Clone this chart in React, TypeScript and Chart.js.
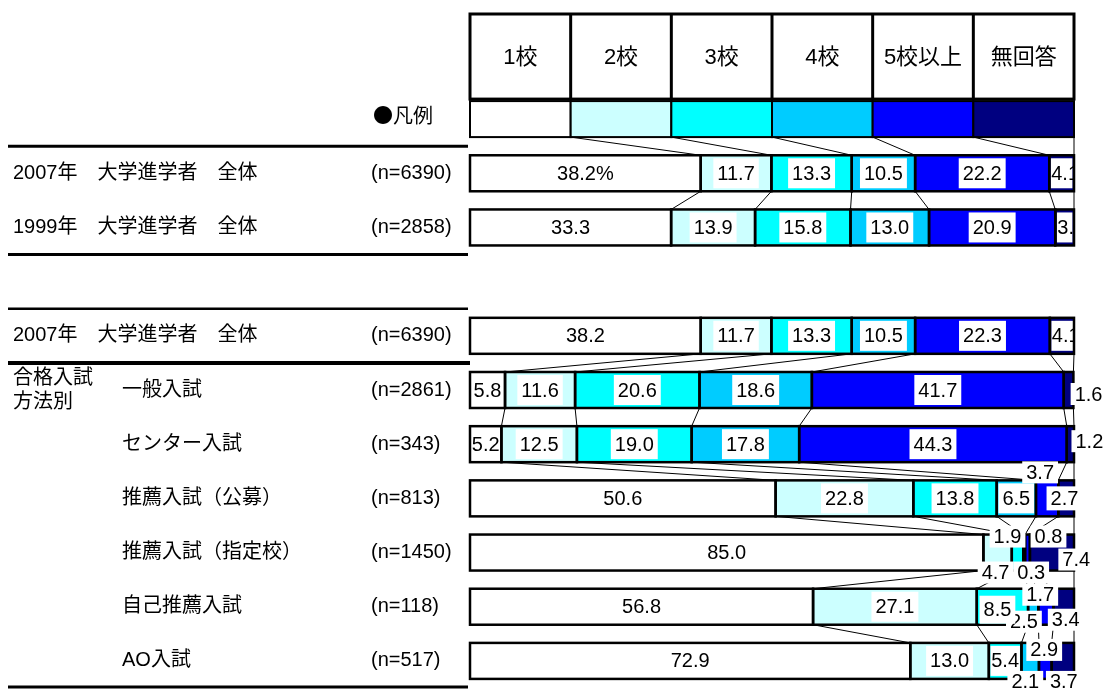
import React, { useEffect, useRef } from 'react';
import { Chart, registerables } from 'chart.js';

Chart.register(...registerables);

// ---------- data ----------
const seriesNames = ['1校', '2校', '3校', '4校', '5校以上', '無回答'];
const seriesColors = ['#FFFFFF', '#CCFFFF', '#00FFFF', '#00CCFF', '#0000FF', '#000080'];

const rowNames = [
  '',
  '2007年　大学進学者　全体',
  '1999年　大学進学者　全体',
  '',
  '2007年　大学進学者　全体',
  '一般入試',
  'センター入試',
  '推薦入試（公募）',
  '推薦入試（指定校）',
  '自己推薦入試',
  'AO入試',
];
const sampleSizes = ['', '(n=6390)', '(n=2858)', '', '(n=6390)', '(n=2861)', '(n=343)', '(n=813)', '(n=1450)', '(n=118)', '(n=517)'];
const groupTitle = ['合格入試', '方法別'];
const legendTitle = '●凡例';

const all2007 = [38.2, 11.7, 13.3, 10.5, 22.2, 4.1];
const all1999 = [33.3, 13.9, 15.8, 13.0, 20.9, 3.1];
const all2007b = [38.2, 11.7, 13.3, 10.5, 22.3, 4.1];
const general = [5.8, 11.6, 20.6, 18.6, 41.7, 1.6];
const center = [5.2, 12.5, 19.0, 17.8, 44.3, 1.2];
const recPublic = [50.6, 22.8, 13.8, 6.5, 3.7, 2.7];
const recDesignated = [85.0, 4.7, 1.9, 0.3, 0.8, 7.4];
const selfRec = [56.8, 27.1, 8.5, 1.7, 2.5, 3.4];
const aoExam = [72.9, 13.0, 5.4, 2.9, 2.1, 3.7];

const rowValues: (number[] | null)[] = [
  null, all2007, all1999, null, all2007b, general, center, recPublic, recDesignated, selfRec, aoExam,
];

// rows joined by series lines
const connectedRows = [[0, 1], [1, 2], [4, 5], [5, 6], [6, 7], [7, 8], [8, 9], [9, 10]];

// label displacement (dx, dy, box height) for crowded segments: key = row-series
const labelNudges: Record<string, [number, number, number]> = {
  '5-5': [20, 4, 22],
  '6-5': [19, -3, 22],
  '7-4': [-7, -26, 22],
  '7-5': [-2, 0, 24],
  '8-1': [-2, 20, 22],
  '8-2': [-10, -16, 22],
  '8-3': [7, 20, 22],
  '8-4': [21, -16, 22],
  '8-5': [24, 7, 22],
  '9-2': [-5, 3, 28],
  '9-3': [7, -12, 22],
  '9-4': [-22, 15, 22],
  '9-5': [2, 13, 22],
  '10-3': [14, -11, 22],
  '10-4': [-20, 21, 22],
  '10-5': [1, 21, 22],
};

// ---------- drawing ----------
const FONT = '"Liberation Sans", "Noto Sans CJK JP", sans-serif';
const CJK_FONT = '"Noto Sans CJK JP", sans-serif';
const BAR_H = 36;

const tablePlugin = {
  id: 'tablePlugin',
  afterDatasetsDraw(chart: any) {
    const ctx = chart.ctx as CanvasRenderingContext2D;
    const xs = chart.scales.x;
    const ys = chart.scales.y;
    const area = chart.chartArea;
    const half = BAR_H / 2;
    const n = seriesNames.length;
    const colX = (k: number) => xs.getPixelForValue((k * 100) / n);
    const rowY = (j: number) => ys.getPixelForValue(j);
    const seg = (i: number, j: number) => chart.getDatasetMeta(i).data[j].getProps(['x', 'y', 'base'], true);

    ctx.save();
    ctx.textBaseline = 'middle';

    // header table
    const legendTop = rowY(0) - half;
    const headTop = 14;
    const headBottom = legendTop - 2;
    ctx.fillStyle = '#fff';
    ctx.fillRect(colX(0), headTop, colX(n) - colX(0), headBottom - headTop);
    ctx.strokeStyle = '#000';
    ctx.lineWidth = 3;
    ctx.strokeRect(colX(0), headTop, colX(n) - colX(0), headBottom - headTop);
    for (let k = 1; k < n; k++) {
      ctx.beginPath();
      ctx.moveTo(colX(k), headTop);
      ctx.lineTo(colX(k), headBottom);
      ctx.stroke();
    }
    ctx.fillStyle = '#000';
    ctx.font = `22px ${FONT}`;
    ctx.textAlign = 'center';
    for (let k = 0; k < n; k++) {
      ctx.fillText(seriesNames[k], (colX(k) + colX(k + 1)) / 2, (headTop + headBottom) / 2 + 1);
    }
    // legend swatches
    ctx.lineWidth = 2;
    for (let k = 0; k < n; k++) {
      ctx.fillStyle = seriesColors[k];
      ctx.fillRect(colX(k), legendTop, colX(k + 1) - colX(k), BAR_H);
      ctx.strokeRect(colX(k), legendTop, colX(k + 1) - colX(k), BAR_H);
    }

    // left texts
    ctx.fillStyle = '#000';
    ctx.textAlign = 'left';
    ctx.font = `20px ${CJK_FONT}`;
    ctx.fillText(legendTitle, 373, rowY(0) - 4);
    ctx.font = `20px ${FONT}`;
    for (let j = 0; j < rowNames.length; j++) {
      if (!rowNames[j]) continue;
      ctx.fillText(rowNames[j], j >= 5 ? 122 : 13, rowY(j));
      ctx.fillText(sampleSizes[j], 371, rowY(j));
    }
    ctx.fillText(groupTitle[0], 13, rowY(5) - 12);
    ctx.fillText(groupTitle[1], 13, rowY(5) + 12);

    // separator lines on the label side
    const bandEdge = (j: number) => (rowY(j - 1) + rowY(j)) / 2;
    const seps: [number, number, number][] = [
      [bandEdge(1), 3, 468],
      [bandEdge(3), 3, 468],
      [bandEdge(4), 2.5, 468],
      [bandEdge(5), 4, 470],
      [area.bottom - 1, 3, 468],
    ];
    ctx.strokeStyle = '#000';
    for (const [y, w, x2] of seps) {
      ctx.lineWidth = w;
      ctx.beginPath();
      ctx.moveTo(8, y);
      ctx.lineTo(x2, y);
      ctx.stroke();
    }

    // in-bar labels (clipped to plot area)
    ctx.save();
    ctx.beginPath();
    ctx.rect(area.left, area.top, area.right - area.left, area.bottom - area.top);
    ctx.clip();
    ctx.font = `20px ${FONT}`;
    rowValues.forEach((vals, j) => {
      if (!vals) return;
      vals.forEach((v, i) => {
        if (labelNudges[`${j}-${i}`]) return;
        const p = seg(i, j);
        const text = v.toFixed(1) + (j === 1 && i === 0 ? '%' : '');
        const tw = ctx.measureText(text).width;
        const inner = p.x - p.base - 3;
        const bw = Math.min(tw + 8, inner);
        const cx = (p.x + p.base) / 2;
        ctx.fillStyle = '#fff';
        ctx.fillRect(cx - bw / 2, p.y - 15, bw, 30);
        ctx.fillStyle = '#000';
        if (tw > inner) {
          ctx.textAlign = 'left';
          ctx.fillText(text, p.base + 2, p.y + 1);
        } else {
          ctx.textAlign = 'center';
          ctx.fillText(text, cx, p.y + 1);
        }
      });
    });
    ctx.restore();

    // segment outlines
    ctx.strokeStyle = '#000';
    ctx.lineWidth = 2.5;
    rowValues.forEach((vals, j) => {
      if (!vals) return;
      vals.forEach((_, i) => {
        const p = seg(i, j);
        const x2 = Math.min(p.x, area.right);
        ctx.strokeRect(p.base, p.y - half, x2 - p.base, BAR_H);
      });
    });

    // series lines between rows
    ctx.lineWidth = 1;
    for (const [a, b] of connectedRows) {
      for (let k = 0; k < n; k++) {
        const xa = a === 0 ? colX(k + 1) : Math.min(seg(k, a).x, area.right);
        const xb = Math.min(seg(k, b).x, area.right);
        ctx.beginPath();
        ctx.moveTo(xa, rowY(a) + half);
        ctx.lineTo(xb, rowY(b) - half);
        ctx.stroke();
      }
    }

    // displaced labels (drawn right-to-left so left labels sit on top)
    ctx.font = `20px ${FONT}`;
    ctx.textAlign = 'center';
    rowValues.forEach((vals, j) => {
      if (!vals) return;
      for (let i = vals.length - 1; i >= 0; i--) {
        const nudge = labelNudges[`${j}-${i}`];
        if (!nudge) continue;
        const p = seg(i, j);
        const text = vals[i].toFixed(1);
        const tw = ctx.measureText(text).width;
        const cx = (p.x + p.base) / 2 + nudge[0];
        const cy = p.y + nudge[1];
        const bh = nudge[2];
        ctx.fillStyle = '#fff';
        ctx.fillRect(cx - tw / 2 - 4, cy - bh / 2, tw + 8, bh);
        ctx.fillStyle = '#000';
        ctx.fillText(text, cx, cy + 1);
      }
    });

    ctx.restore();
  },
};

export default function App() {
  const ref = useRef<HTMLCanvasElement>(null);
  useEffect(() => {
    if (!ref.current) return;
    const chart = new Chart(ref.current, {
      type: 'bar',
      data: {
        labels: rowNames,
        datasets: seriesNames.map((name, i) => ({
          label: name,
          data: rowValues.map((r) => (r ? r[i] : null)),
          backgroundColor: seriesColors[i],
          borderWidth: 0,
          barThickness: BAR_H,
        })),
      },
      options: {
        animation: false,
        responsive: false,
        indexAxis: 'y',
        events: [],
        layout: { padding: { left: 470, right: 30, top: 92, bottom: 3 } },
        plugins: { legend: { display: false }, tooltip: { enabled: false } },
        scales: {
          x: { stacked: true, min: 0, max: 100, display: false },
          y: { stacked: true, display: false },
        },
      },
      plugins: [tablePlugin],
    } as any);
    return () => chart.destroy();
  }, []);
  return (
    <div style={{ position: 'fixed', left: 0, top: 0, width: 1104, height: 691, background: '#fff' }}>
      <canvas ref={ref} width={1104} height={691} style={{ display: 'block', width: 1104, height: 691 }} />
    </div>
  );
}
